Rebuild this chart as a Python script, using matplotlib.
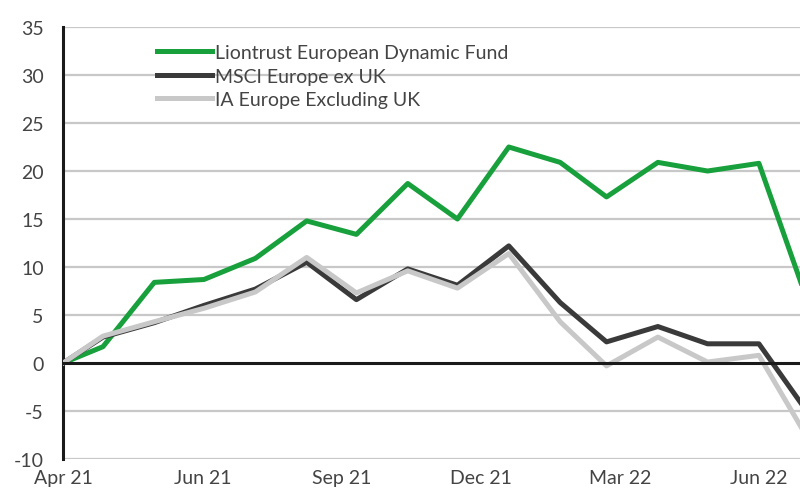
import matplotlib
matplotlib.use("Agg")
import matplotlib.pyplot as plt
from matplotlib import font_manager
import pandas as pd

# ---- data ----
dates = pd.to_datetime([
    "2021-04-06", "2021-04-30", "2021-05-31", "2021-06-30", "2021-07-31",
    "2021-08-31", "2021-09-30", "2021-10-31", "2021-11-30", "2021-12-31",
    "2022-01-31", "2022-02-28", "2022-03-31", "2022-04-30", "2022-05-31",
    "2022-06-30",
])
liontrust = [0, 1.7, 8.4, 8.7, 10.9, 14.8, 13.4, 18.7, 15.0, 22.5,
             20.9, 17.3, 20.9, 20.0, 20.8, 6.1]
msci = [0, 2.7, 4.2, 6.0, 7.7, 10.5, 6.6, 9.8, 8.1, 12.2,
        6.3, 2.2, 3.8, 2.0, 2.0, -5.3]
ia = [0, 2.8, 4.3, 5.7, 7.4, 11.0, 7.3, 9.6, 7.8, 11.4,
      4.3, -0.3, 2.7, 0.1, 0.8, -8.0]

series_names = ["Liontrust European Dynamic Fund", "MSCI Europe ex UK",
                "IA Europe Excluding UK"]
tick_dates = pd.to_datetime(["2021-04-06", "2021-06-29", "2021-09-21",
                             "2021-12-14", "2022-03-08", "2022-05-31"])
tick_labels = ["Apr 21", "Jun 21", "Sep 21", "Dec 21", "Mar 22", "Jun 22"]
yticks = [-10, -5, 0, 5, 10, 15, 20, 25, 30, 35]

# ---- style ----
fams = {f.name for f in font_manager.fontManager.ttflist}
family = ["Lato", "DejaVu Sans"] if "Lato" in fams else ["DejaVu Sans"]
plt.rcParams["font.family"] = family
txt_color = "#444444"

fig = plt.figure(figsize=(8, 4.89), dpi=100)
ax = fig.add_axes([0.079, 0.0593, 0.921, 0.8834])

x_end = dates[0] + pd.Timedelta(days=444.8)
ax.set_xlim(dates[0], x_end)
ax.set_ylim(-10, 35)

ax.set_yticks(yticks)
ax.set_yticklabels([str(v) for v in yticks])
ax.set_xticks(tick_dates)
ax.set_xticklabels(tick_labels)

for v in yticks:
    if v != 0:
        ax.axhline(v, color="#c8c8c8", lw=1.6, zorder=1)
ax.axhline(0, color="#1a1a1a", lw=2.2, zorder=5)

ax.plot(dates, liontrust, color="#17a03b", lw=3.6, zorder=2,
        label=series_names[0])
ax.plot(dates, msci, color="#3a3a3a", lw=3.6, zorder=3,
        label=series_names[1])
ax.plot(dates, ia, color="#c8c8c8", lw=3.6, zorder=4,
        label=series_names[2])

for s in ["top", "right", "bottom"]:
    ax.spines[s].set_visible(False)
ax.spines["left"].set_color("#1a1a1a")
ax.spines["left"].set_linewidth(2.2)

ax.tick_params(axis="both", length=0, labelsize=14, colors=txt_color)
ax.tick_params(axis="y", pad=14)
ax.tick_params(axis="x", pad=7)

leg = ax.legend(loc="upper left", bbox_to_anchor=(0.196, 0.908),
                bbox_transform=fig.transFigure, frameon=False,
                fontsize=14, handlelength=2.85, handletextpad=0.15,
                labelspacing=0.34, borderaxespad=0, borderpad=0)
for t in leg.get_texts():
    t.set_color(txt_color)

fig.savefig("out.png", dpi=100)
